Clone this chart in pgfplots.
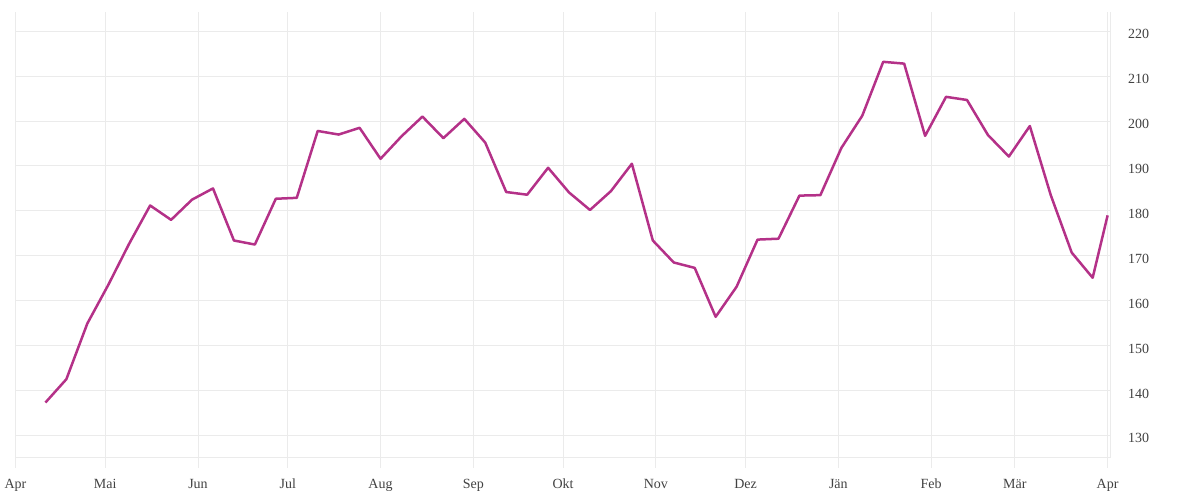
\documentclass[border=0pt]{standalone}
\usepackage{pgfplots}
\pgfplotsset{compat=1.18}
\usepackage{fontspec}
\setmainfont{Liberation Serif}
\definecolor{gridc}{HTML}{EBEBEB}
\definecolor{linec}{RGB}{180,49,136}
\definecolor{labc}{HTML}{424242}
\begin{document}
\begin{tikzpicture}
\path[use as bounding box] (0pt,0pt) rectangle (1200pt,500pt);
\begin{axis}[
  at={(15.5pt,42pt)}, anchor=south west,
  scale only axis, width=1094.5pt, height=446pt,
  xmin=0, xmax=365.8, ymin=124.95, ymax=224.3,
  axis x line*=bottom, axis y line*=right,
  axis line style={draw=gridc, line width=1pt},
  xtick={0,30,61,91,122,153,183,214,244,275,306,334,365},
  xticklabels={Apr,Mai,Jun,Jul,Aug,Sep,Okt,Nov,Dez,Jän,Feb,Mär,Apr},
  ytick={130,140,...,220},
  grid=major, grid style={draw=gridc, line width=1pt},
  tick align=outside, major tick length=10pt,
  xtick style={draw=gridc, line width=1pt},
  ytick style={draw=none},
  yticklabel pos=right,
  ticklabel style={font=\fontsize{14}{16}\selectfont, text=labc},
  xticklabel style={anchor=base, inner sep=0pt, yshift=-21pt},
  yticklabel style={anchor=west, inner sep=0pt, xshift=8pt, yshift=-3pt},
  /pgf/number format/assume math mode=true,
  /pgf/number format/set thousands separator={},
  clip=false,
]
\addplot[linec, line width=2.5pt, line join=round] coordinates {
(10,137.3) (17,142.5) (24,154.9) (31,163.5) (38,172.7) (45,181.2) (52,178.0)
(59,182.5) (66,185.0) (73,173.4) (80,172.5) (87,182.7) (94,182.9) (101,197.8)
(108,197.0) (115,198.5) (122,191.6) (129,196.6) (136,201.0) (143,196.2) (150,200.5)
(157,195.2) (164,184.2) (171,183.6) (178,189.6) (185,184.1) (192,180.2) (199,184.4)
(206,190.5) (213,173.4) (220,168.5) (227,167.3) (234,156.4) (241,163.1) (248,173.6)
(255,173.8) (262,183.4) (269,183.5) (276,194.0) (283,201.2) (290,213.2) (297,212.8)
(304,196.7) (311,205.4) (318,204.7) (325,196.9) (332,192.1) (339,198.9) (346,183.5)
(353,170.7) (360,165.1) (365,179.0)
};
\end{axis}
\end{tikzpicture}
\end{document}
